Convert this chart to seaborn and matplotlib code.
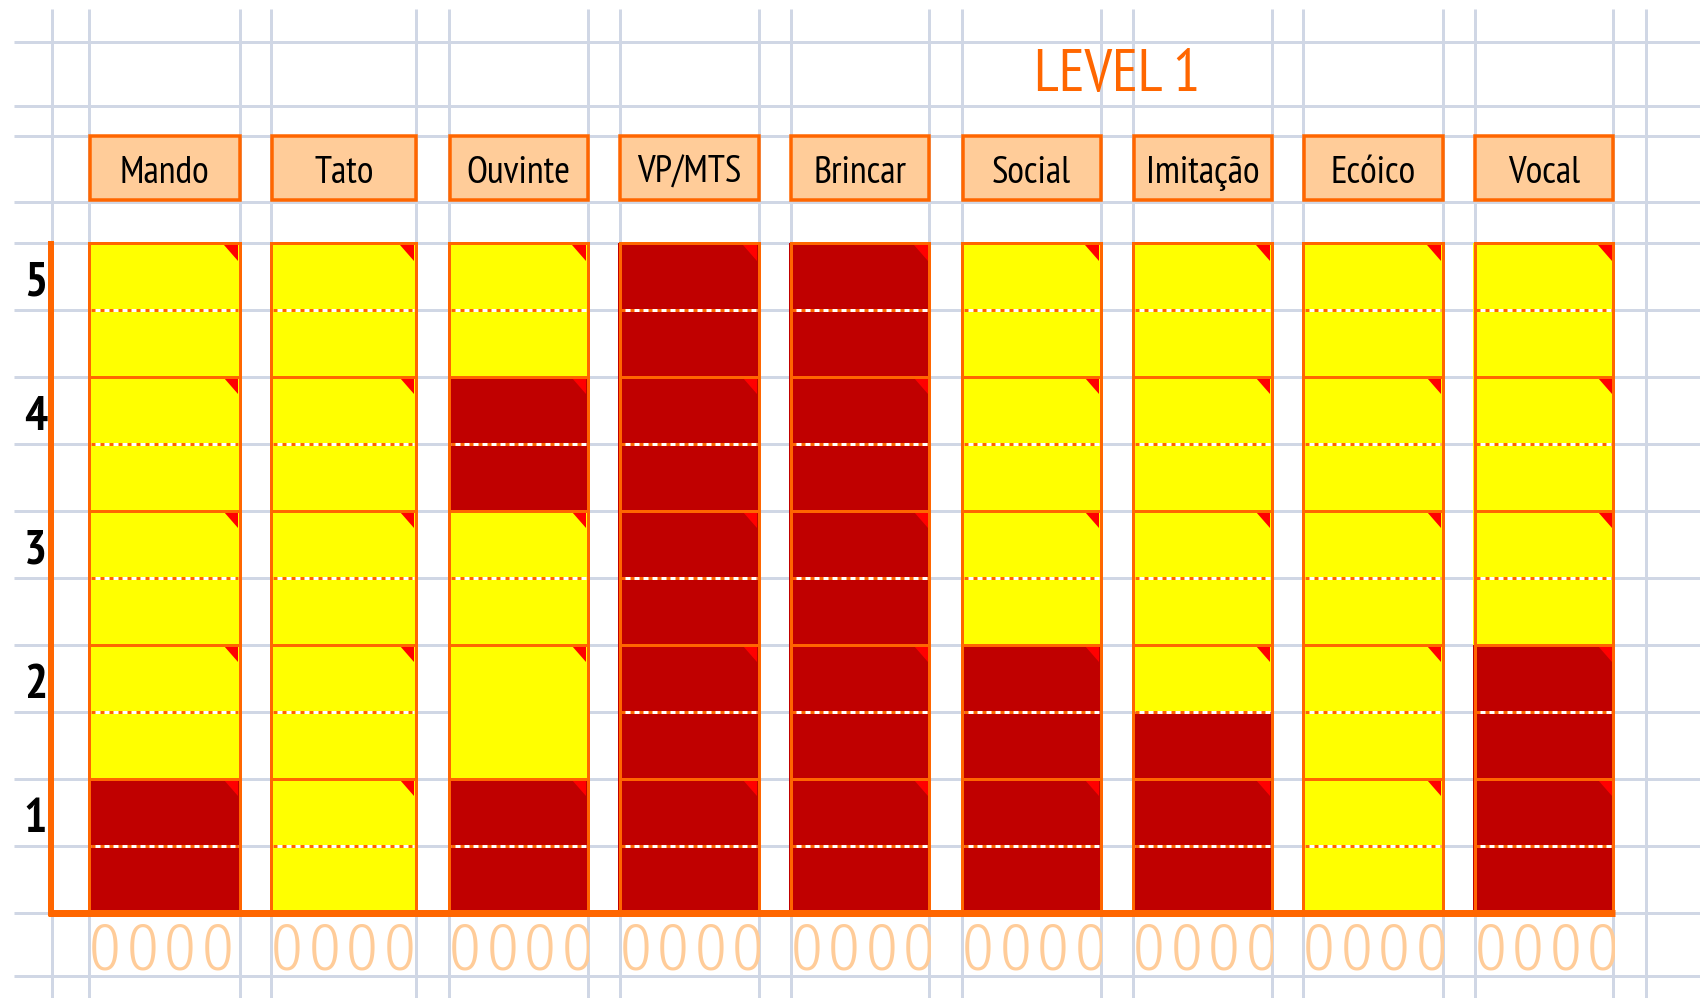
import numpy as np
import pandas as pd
import matplotlib.pyplot as plt
import seaborn as sns
from matplotlib import font_manager as fm
from matplotlib.patches import Rectangle, Polygon

# dados
habilidades = ["Mando", "Tato", "Ouvinte", "VP/MTS", "Brincar",
               "Social", "Imitação", "Ecóico", "Vocal"]
niveis = [1, 2, 3, 4, 5]
# estado de cada meia-linha, de baixo para cima (nível 1 metade de baixo ... nível 5 metade de cima)
# R = vermelho, A = amarelo
estado = ["RRAAAAAAAA",  # Mando
          "AAAAAAAAAA",  # Tato
          "RRAAAARRAA",  # Ouvinte
          "RRRRRRRRRR",  # VP/MTS
          "RRRRRRRRRR",  # Brincar
          "RRRRAAAAAA",  # Social
          "RRRAAAAAAA",  # Imitação
          "AAAAAAAAAA",  # Ecóico
          "RRRRAAAAAA"]  # Vocal
sem_divisao = [("Ouvinte", 2)]     # célula sem a linha pontilhada
pontos = ["0", "0", "0", "0"]      # pontuação embaixo de cada coluna
titulo = "LEVEL 1"

# cores
VERMELHO = "#C00000"
AMARELO = "#FFFF00"
LARANJA = "#FF6600"
PESSEGO = "#FFCC99"
GRADE = "#D0D7E5"
PX = 0.72  # 1 pixel em pontos (dpi 100)

# layout (pixels da figura)
col_esq = [88, 270, 448, 618.5, 789.5, 961, 1132, 1302, 1473.5]
col_dir = [241.5, 417.5, 589.5, 760.5, 931, 1102.5, 1273.5, 1444.5, 1615]
topo, base = 243, 912.5
meia = (base - topo) / 10

sns.set_theme(style="white")
nomes = {f.name for f in fm.fontManager.ttflist}
fonte = "PT Sans Narrow" if "PT Sans Narrow" in nomes else "Liberation Sans"
fonte_zero = "Fira Sans Condensed" if "Fira Sans Condensed" in nomes else "Roboto"
plt.rcParams["font.family"] = [fonte, "DejaVu Sans"]
plt.rcParams["lines.scale_dashes"] = False

fig = plt.figure(figsize=(17, 9.98), dpi=100)
ax = fig.add_axes([0, 0, 1, 1])

# células (barras empilhadas, uma meia-linha por vez)
centros = [(l + r) / 2 for l, r in zip(col_esq, col_dir)]
linhas = []
for i, hab in enumerate(habilidades):
    for j, s in enumerate(estado[i]):
        linhas.append({"hab": hab, "xc": centros[i], "meia": j, "estado": s, "altura": meia})
df = pd.DataFrame(linhas)

for j in range(10):
    sub = df[df["meia"] == j]
    sns.barplot(data=sub, x="xc", y="altura", hue="estado", hue_order=["R", "A"],
                palette={"R": VERMELHO, "A": AMARELO}, native_scale=True, dodge=False,
                saturation=1, errorbar=None, legend=False, orient="x", linewidth=0,
                bottom=base - (j + 1) * meia, ax=ax)

for p in ax.patches:
    c = p.get_x() + p.get_width() / 2
    i = int(np.argmin([abs(c - cc) for cc in centros]))
    p.set_x(col_esq[i])
    p.set_width(col_dir[i] - col_esq[i])
    p.set_zorder(2)

# grade do excel
xs_grade = [52.5] + [l + 1.5 for l in col_esq] + [r - 1.5 for r in col_dir] + [1646.5]
ys_grade = [41.5, 105.5, 135.5, 202] + [topo + k * meia for k in range(11)] + [975.5]
ax.vlines(xs_grade, 9, 998, color=GRADE, lw=3 * PX, zorder=0)
ax.hlines(ys_grade, 14, 1700, color=GRADE, lw=3 * PX, zorder=0)

for i, hab in enumerate(habilidades):
    l, r = col_esq[i], col_dir[i]
    # cabeçalho
    ax.add_patch(Rectangle((l + 1.75, 135.75), r - l - 3.5, 64.5, facecolor=PESSEGO,
                           edgecolor=LARANJA, lw=3.5 * PX, zorder=3))
    ax.text((l + r) / 2, 183, hab, ha="center", va="baseline", fontsize=27.5,
            color="black", zorder=4)
    for nv in niveis:
        yt = base - nv * 2 * meia
        # linha pontilhada no meio do nível
        if (hab, nv) not in sem_divisao:
            ym = yt + meia
            ax.plot([l + 3, r - 3], [ym, ym], color="white", lw=3 * PX, zorder=3,
                    solid_capstyle="butt")
            ax.plot([l + 3, r - 3], [ym, ym], color=LARANJA, lw=3 * PX, zorder=3,
                    dashes=(4 * PX, 5 * PX), dash_capstyle="butt")
        # triângulo de comentário
        ir, it = r - 3, yt + 1.5
        ax.add_patch(Polygon([(ir - 14, it), (ir, it), (ir, it + 16)], closed=True,
                             facecolor="#FF0000", edgecolor="none", zorder=4))
        ax.add_patch(Rectangle((l + 1.5, yt), r - l - 3, 2 * meia, facecolor="none",
                               edgecolor=LARANJA, lw=3 * PX, zorder=5))
    # zeros embaixo
    clip = Rectangle((l, base), r - l, 60, transform=ax.transData)
    for k, z in enumerate(pontos):
        t = ax.text(l + 17 + 37.5 * k, 969, z, ha="center", va="baseline", fontsize=48,
                    family=[fonte_zero, "DejaVu Sans"], fontweight=300,
                    color=PESSEGO, zorder=3, clip_on=True)
        t.set_clip_path(clip)

# rótulos dos níveis
for nv in niveis:
    yt = base - nv * 2 * meia
    ax.text(35.5, yt + 53, str(nv), ha="center", va="baseline", fontsize=35,
            fontweight="bold", color="black", zorder=4)

# eixos laranja
ax.plot([51, 51], [241, 916], color=LARANJA, lw=6 * PX, solid_capstyle="butt", zorder=6)
ax.plot([48, 1615.5], [base, base], color=LARANJA, lw=7 * PX, solid_capstyle="butt", zorder=6)

ax.text(1117, 91, titulo, ha="center", va="baseline", fontsize=43, color=LARANJA)

ax.set_xlim(0, 1700)
ax.set_ylim(998, 0)
ax.axis("off")
fig.savefig("out.png", dpi=100)
